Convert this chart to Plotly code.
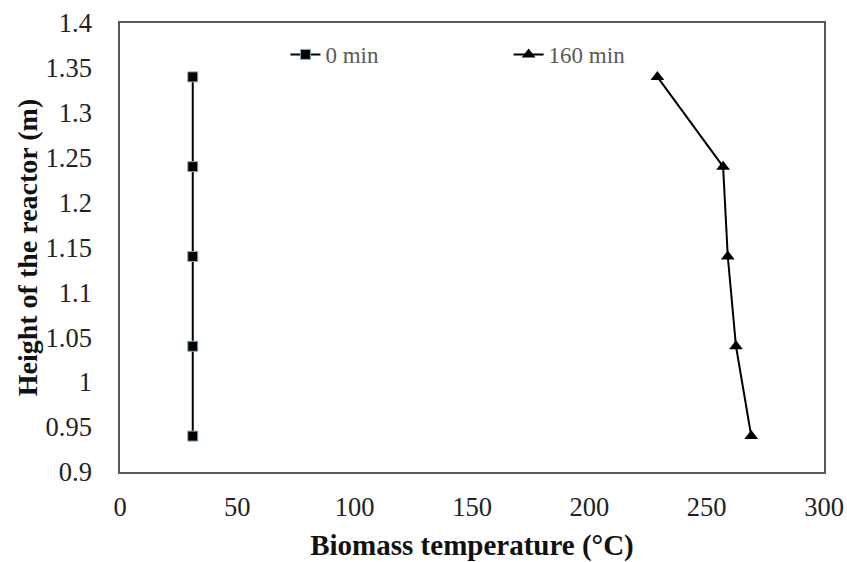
import plotly.graph_objects as go

heights = [0.94, 1.04, 1.14, 1.24, 1.34]
temp_0min = [31, 31, 31, 31, 31]
temp_160min = [269, 262.5, 259, 257, 229]
series_names = ["0 min", "160 min"]

FONT = "Liberation Serif"

fig = go.Figure()
fig.add_trace(go.Scatter(
    x=temp_0min, y=heights, mode="lines+markers", name=series_names[0],
    line=dict(color="black", width=2),
    marker=dict(symbol="square", size=10, color="black",
                line=dict(color="#7aaed8", width=1)),
    legend="legend", showlegend=True,
))
fig.add_trace(go.Scatter(
    x=temp_160min, y=heights, mode="lines+markers", name=series_names[1],
    line=dict(color="black", width=2),
    marker=dict(symbol="triangle-up", size=12, color="black"),
    legend="legend2", showlegend=True,
))

legend_common = dict(
    orientation="h", yanchor="middle", xanchor="left",
    font=dict(family=FONT, size=23, color="#595959"),
    bgcolor="rgba(0,0,0,0)", itemwidth=30, tracegroupgap=0,
)
fig.update_layout(
    width=847, height=562, showlegend=True,
    margin=dict(l=120, r=23, t=23, b=90, autoexpand=False),
    paper_bgcolor="white", plot_bgcolor="white",
    font=dict(family=FONT, color="#222222"),
    legend=dict(x=0.235, y=0.93, **legend_common),
    legend2=dict(x=0.552, y=0.93, **legend_common),
    xaxis=dict(
        range=[0, 300], tick0=0, dtick=50, showgrid=False, zeroline=False,
        showline=True, linecolor="#595959", linewidth=1.5, mirror=True,
        ticks="", tickfont=dict(family=FONT, size=26.5, color="#222222"),
        ticklabelstandoff=10, automargin=False,
        title=dict(text="<b>Biomass temperature (°C)</b>",
                   font=dict(family=FONT, size=29, color="#111111"), standoff=16),
    ),
    yaxis=dict(
        range=[0.9, 1.4], tick0=0.9, dtick=0.05, showgrid=False, zeroline=False,
        showline=True, linecolor="#595959", linewidth=1.5, mirror=True,
        ticks="", tickfont=dict(family=FONT, size=26.5, color="#222222"),
        ticklabelstandoff=21, tickformat="~g", automargin=False,
        title=dict(text="<b>Height of the reactor (m)</b>",
                   font=dict(family=FONT, size=28, color="#111111"), standoff=0),
    ),
)

fig.write_html(
    "out.html",
    config={"displayModeBar": False},
    post_script="document.body.style.margin='0';document.body.style.overflow='hidden';",
)
